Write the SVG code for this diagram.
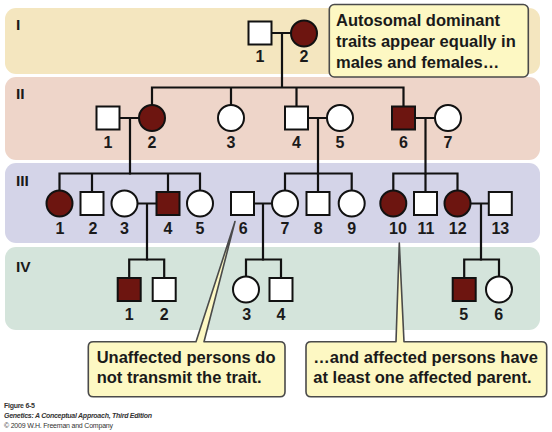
<svg xmlns="http://www.w3.org/2000/svg" width="552" height="432" viewBox="0 0 552 432">
<style>
.band{stroke:none}
.m{fill:#ffffff;stroke:#111111;stroke-width:2}
.a{fill:#6d1510;stroke:#111111;stroke-width:2}
.ln{fill:none;stroke:#111111;stroke-width:2.2;stroke-linecap:square}
.num{font-family:"Liberation Sans",Arial,sans-serif;font-weight:bold;font-size:16px;fill:#1a1a1a;text-anchor:middle}
.gen{font-family:"Liberation Sans",Arial,sans-serif;font-weight:bold;font-size:15.5px;fill:#1a1a1a}
.call{fill:#fdf8c3;stroke:#4a4a4a;stroke-width:1.6;stroke-linejoin:round}
.ct{font-family:"Liberation Sans",Arial,sans-serif;font-weight:bold;font-size:16.5px;fill:#1a1a1a}
.ft{font-family:"Liberation Sans",Arial,sans-serif;font-size:7px;fill:#333333}
</style>
<rect width="552" height="432" fill="#ffffff"/>
<g id="bands">
<rect class="band" x="5" y="8" width="535" height="66" rx="11" fill="#f4e6bf"/>
<rect class="band" x="5" y="77" width="535" height="83" rx="11" fill="#eed5c9"/>
<rect class="band" x="5" y="163" width="535" height="80" rx="11" fill="#d4d4e8"/>
<rect class="band" x="5" y="247" width="535" height="83" rx="11" fill="#d4e4db"/>
<text class="gen" x="16" y="30">I</text>
<text class="gen" x="16" y="99">II</text>
<text class="gen" x="16" y="186">III</text>
<text class="gen" x="16" y="272">IV</text>
</g>
<g id="connectors" class="ln">
<path d="M260 33H304M282 33V87.5M152 87.5H403.5M152 87.5V118M231 87.5V118M296.5 87.5V118M403.5 87.5V118"/>
<path d="M108 118H152M130 118V173.5M296.5 118H340M318 118V173.5M403.5 118H448M425.5 118V173.5"/>
<path d="M59.5 173.5H200M59.5 173.5V203.5M92 173.5V203.5M168 173.5V203.5M200 173.5V203.5"/>
<path d="M285 173.5H351.7M285 173.5V203.5M318 173.5V203.5M351.7 173.5V203.5"/>
<path d="M393.3 173.5H457.5M393.3 173.5V203.5M425.5 173.5V203.5M457.5 173.5V203.5"/>
<path d="M124.5 203.5H168M147 203.5V259.5M242.5 203.5H285M263 203.5V259.5M457.5 203.5H500.3M481 203.5V259.5"/>
<path d="M129.2 259.5H164.2M129.2 259.5V289.5M164.2 259.5V289.5"/>
<path d="M246 259.5H281M246 259.5V289.5M281 259.5V289.5"/>
<path d="M464.2 259.5H499M464.2 259.5V289.5M499 259.5V289.5"/>
</g>
<g id="I-1"><rect class="m" x="248.5" y="21.5" width="23" height="23"/><text class="num" x="260" y="62">1</text></g>
<g id="I-2"><circle class="a" cx="304" cy="33.5" r="13"/><text class="num" x="304" y="62">2</text></g>
<g id="II-1"><rect class="m" x="96.5" y="106.5" width="23" height="23"/><text class="num" x="108" y="148">1</text></g>
<g id="II-2"><circle class="a" cx="152" cy="118" r="13"/><text class="num" x="152" y="148">2</text></g>
<g id="II-3"><circle class="m" cx="231" cy="118" r="13"/><text class="num" x="231" y="148">3</text></g>
<g id="II-4"><rect class="m" x="285" y="106.5" width="23" height="23"/><text class="num" x="296.5" y="148">4</text></g>
<g id="II-5"><circle class="m" cx="340" cy="118" r="13"/><text class="num" x="340" y="148">5</text></g>
<g id="II-6"><rect class="a" x="392" y="106.5" width="23" height="23"/><text class="num" x="403.5" y="148">6</text></g>
<g id="II-7"><circle class="m" cx="448" cy="118" r="13"/><text class="num" x="448" y="148">7</text></g>
<g id="III-1"><circle class="a" cx="59.5" cy="203.5" r="13"/><text class="num" x="60" y="234">1</text></g>
<g id="III-2"><rect class="m" x="80.5" y="192" width="23" height="23"/><text class="num" x="93" y="234">2</text></g>
<g id="III-3"><circle class="m" cx="124.5" cy="203.5" r="13"/><text class="num" x="124.5" y="234">3</text></g>
<g id="III-4"><rect class="a" x="156.5" y="192" width="23" height="23"/><text class="num" x="168" y="234">4</text></g>
<g id="III-5"><circle class="m" cx="200" cy="203.5" r="13"/><text class="num" x="200" y="234">5</text></g>
<g id="III-6"><rect class="m" x="231" y="192" width="23" height="23"/><text class="num" x="243.3" y="234">6</text></g>
<g id="III-7"><circle class="m" cx="285" cy="203.5" r="13"/><text class="num" x="285" y="234">7</text></g>
<g id="III-8"><rect class="m" x="306.5" y="192" width="23" height="23"/><text class="num" x="318.3" y="234">8</text></g>
<g id="III-9"><circle class="m" cx="351.7" cy="203.5" r="13"/><text class="num" x="351.7" y="234">9</text></g>
<g id="III-10"><circle class="a" cx="393.3" cy="203.5" r="13"/><text class="num" x="398" y="234">10</text></g>
<g id="III-11"><rect class="m" x="414" y="192" width="23" height="23"/><text class="num" x="426" y="234">11</text></g>
<g id="III-12"><circle class="a" cx="457.5" cy="203.5" r="13"/><text class="num" x="457.7" y="234">12</text></g>
<g id="III-13"><rect class="m" x="488.8" y="192" width="23" height="23"/><text class="num" x="500.3" y="234">13</text></g>
<g id="IV-1"><rect class="a" x="117.7" y="278" width="23" height="23"/><text class="num" x="129.3" y="319.5">1</text></g>
<g id="IV-2"><rect class="m" x="152.7" y="278" width="23" height="23"/><text class="num" x="164.3" y="319.5">2</text></g>
<g id="IV-3"><circle class="m" cx="246" cy="289.5" r="13"/><text class="num" x="246.7" y="319.5">3</text></g>
<g id="IV-4"><rect class="m" x="269.5" y="278" width="23" height="23"/><text class="num" x="281" y="319.5">4</text></g>
<g id="IV-5"><rect class="a" x="452.7" y="278" width="23" height="23"/><text class="num" x="463.7" y="319.5">5</text></g>
<g id="IV-6"><circle class="m" cx="499" cy="289.5" r="13"/><text class="num" x="498.7" y="319.5">6</text></g>
<g id="callout-top">
<rect class="call" x="329.3" y="4.5" width="199" height="72.5" rx="5"/>
<text class="ct" x="336" y="26">Autosomal dominant</text>
<text class="ct" x="336" y="47">traits appear equally in</text>
<text class="ct" x="336" y="68">males and females…</text>
</g>
<g id="callout-unaffected">
<path class="call" d="M93.3 341.7H196L235 221.5L204 341.7H280Q285 341.7 285 346.7V391.7Q285 396.7 280 396.7H93.3Q88.3 396.7 88.3 391.7V346.7Q88.3 341.7 93.3 341.7Z"/>
<text class="ct" x="96.7" y="362.7">Unaffected persons do</text>
<text class="ct" x="96.7" y="383.3">not transmit the trait.</text>
</g>
<g id="callout-affected">
<path class="call" d="M311 341.7H396L399.3 243L404 341.7H541.7Q546.7 341.7 546.7 346.7V391.7Q546.7 396.7 541.7 396.7H311Q306 396.7 306 391.7V346.7Q306 341.7 311 341.7Z"/>
<text class="ct" x="313.3" y="362.7">…and affected persons have</text>
<text class="ct" x="313.3" y="383.3">at least one affected parent.</text>
</g>
<g id="footer">
<text class="ft" x="4" y="407.7" font-weight="bold" textLength="31">Figure 6-5</text>
<text class="ft" x="4" y="418.3" font-weight="bold" font-style="italic" textLength="148">Genetics: A Conceptual Approach, Third Edition</text>
<text class="ft" x="4" y="428.3" textLength="109">© 2009 W.H. Freeman and Company</text>
</g>
</svg>
